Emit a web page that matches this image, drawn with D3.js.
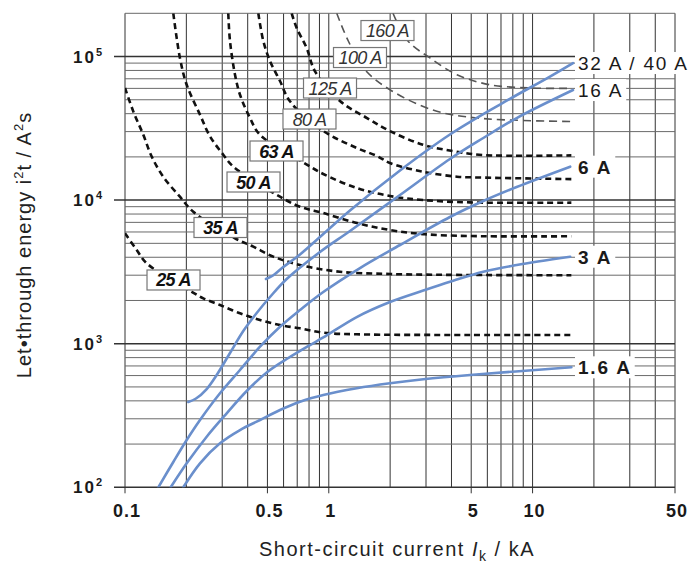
<!DOCTYPE html>
<html><head><meta charset="utf-8">
<script src="https://cdn.jsdelivr.net/npm/d3@7"></script>
<style>body{margin:0;background:#fff} svg{display:block}</style>
</head><body><svg id="c" width="700" height="563"></svg>
<script>
// ---------- data ----------
const xTickLabels = [0.1, 0.5, 1, 5, 10, 50];
const yTickLabels = [100, 1000, 10000, 100000];

// blue curves: MCB let-through energy [kA, A²s]
const mcbNames = ["32 A / 40 A", "16 A", "6 A", "3 A", "1.6 A"];
const mcb32_40 = [[0.4918,2822],[0.5323,2985],[0.5895,3366],[0.7224,4180],[1.271,8466],[2.236,16080],[3.932,28630],[6.918,46320],[12.17,72560],[15.79,90100]];
const mcb16 = [[0.2045,392.7],[0.2231,415.3],[0.2517,483.6],[0.2818,605.4],[0.3275,861.4],[0.3806,1226],[0.4429,1636],[0.5147,2115],[0.6215,2822],[0.9052,4350],[1.271,6092],[2.236,10850],[3.932,19330],[5.731,27070],[8.356,37300],[15.79,58440]];
const mcb6 = [[0.1457,100],[0.1726,150.1],[0.2008,213.5],[0.2334,294.2],[0.2925,451.4],[0.3667,656],[0.4597,953],[0.5763,1313],[0.7224,1717],[0.9397,2291],[1.423,3366],[2.236,4869],[3.932,7627],[5.731,9856],[8.356,12340],[15.3,17090]];
const mcb3 = [[0.1676,100],[0.2008,146.9],[0.2517,225.1],[0.3155,327.6],[0.3956,468.4],[0.4959,630.2],[0.6215,782.4],[0.809,979.4],[0.9397,1105],[1.371,1534],[1.997,1952],[2.909,2347],[3.932,2703],[5.731,3173],[8.356,3532],[15.3,4035]];
const mcb1_6 = [[0.1932,100],[0.2334,146.9],[0.2925,202.5],[0.3667,250.6],[0.4597,294.2],[0.5763,345.4],[0.7224,394.6],[0.9397,439.3],[1.371,489.2],[1.997,530],[2.909,565],[4.93,605.4],[15.5,684.9]];
const mcbBold = [false, false, true, true, true];

// dashed curves: fuse let-through energy [kA, A²s]
const fuseNames = ["25 A", "35 A", "50 A", "63 A", "80 A", "100 A", "125 A", "160 A"];
const fuse25 = [[0.1,5870],[0.1141,4495],[0.1278,3630],[0.2126,2300],[0.2423,2070],[0.2925,1860],[0.3667,1628],[0.4597,1462],[0.5763,1349],[0.7224,1280],[0.9397,1193],[1.37,1163],[4.93,1150],[15.5,1150]];
const fuse35 = [[0.1,60400],[0.1098,41500],[0.123,28500],[0.135,20200],[0.154,14550],[0.186,10560],[0.2163,8300],[0.3466,5420],[0.4262,4740],[0.5342,4040],[0.7224,3530],[1.135,3170],[1.997,3057],[4.93,3010],[15.5,3000]];
const fuse50 = [[0.1726,200000],[0.186,97800],[0.2008,63600],[0.2334,39300],[0.2613,27800],[0.3036,20700],[0.34,17100],[0.5763,10560],[0.7224,8995],[0.9397,8130],[1.375,6920],[1.997,6190],[2.899,5800],[4.93,5620],[15.5,5600]];
const fuse63 = [[0.3212,200000],[0.3275,128300],[0.3466,74700],[0.3667,54200],[0.4106,37300],[0.4597,28500],[0.7727,17840],[0.9397,15200],[1.375,12140],[1.997,10680],[2.899,10020],[4.93,9640],[15.5,9600]];
const fuse80 = [[0.451,200000],[0.4772,128300],[0.5147,93100],[0.5763,67500],[0.6449,48750],[0.9397,30270],[1.375,23050],[1.724,20280],[1.997,18120],[2.899,15770],[4.256,14550],[4.93,14420],[15.5,14000]];
const fuse100 = [[1.094,200000],[1.247,128300],[1.505,80900],[1.997,58700],[3.246,42400],[5.336,37300],[15.5,35300]];
const fuse125 = [[0.6576,200000],[0.6957,158000],[0.7789,114600],[0.8558,78900],[1.135,49000],[1.54,37300],[1.997,30270],[2.899,24300],[4.068,21970],[5.711,20600],[15.5,20500]];
const fuse160 = [[2.065,200000],[2.447,128300],[3.138,97800],[4.256,74700],[6.18,63600],[10.05,60350],[15.5,60000]];
const fuseLabelAt = [[0.173,2778],[0.2942,6446],[0.4272,13370],[0.554,21980],[0.8041,36710],[1.423,98400],[1.014,60350],[1.941,151700]];
const fuseLight = [false, false, false, false, false, true, false, true];
const fuseBoldText = [true, true, true, true, false, false, false, false];

// ---------- drawing ----------
const svg = d3.select("#c");
const L = 125, R = 675, T = 13.3, B = 487.3;
const x = d3.scaleLog().domain([0.1, 50]).range([L, R]);
const y = d3.scaleLog().domain([100, 2e5]).range([B, T]);
const FONT = "'Liberation Sans', Arial, Helvetica, sans-serif";

svg.append("defs").append("clipPath").attr("id","plot")
  .append("rect").attr("x",L).attr("y",T).attr("width",R-L).attr("height",B-T);

// vertical grid
const xGrid = [];
[0.1,1,10].forEach(d=>{for(let m=1;m<=9;m++){const v=+(d*m).toPrecision(3); if(v<=50) xGrid.push(v);}});
const g = svg.append("g");
g.selectAll("line.vx").data(xGrid).join("line")
  .attr("x1",d=>x(d)).attr("x2",d=>x(d))
  .attr("y1",T).attr("y2",d=>xTickLabels.includes(d)?B+6:B)
  .attr("stroke","#333").attr("stroke-width",1);
// horizontal grid
const yGrid = [];
[100,1000,10000,100000].forEach(d=>{for(let m=1;m<=9;m++){const v=d*m; if(v<=2e5) yGrid.push(v);}});
g.selectAll("line.hy").data(yGrid).join("line")
  .attr("x1",d=>yTickLabels.includes(d)?L-11:L).attr("x2",R)
  .attr("y1",d=>y(d)).attr("y2",d=>y(d))
  .attr("stroke",d=>yTickLabels.includes(d)?"#333":"#6a6a6a")
  .attr("stroke-width",d=>yTickLabels.includes(d)?1.5:1);

// axis tick labels
svg.selectAll("text.xt").data(xTickLabels).join("text")
  .attr("x",d=>x(d)+2).attr("y",517).attr("text-anchor","middle")
  .attr("font-family",FONT).attr("font-weight","bold").attr("font-size",18)
  .attr("letter-spacing",1).attr("fill","#1a1a1a").text(d=>d);
const yt = svg.selectAll("text.yt").data(yTickLabels).join("text")
  .attr("x",102).attr("y",d=>y(d)+6).attr("text-anchor","end")
  .attr("font-family",FONT).attr("font-weight","bold").attr("font-size",17)
  .attr("fill","#1a1a1a");
yt.append("tspan").attr("letter-spacing",2).text("10");
yt.append("tspan").attr("font-size",11).attr("dy",-7).text(d=>Math.round(Math.log10(d)));

// axis titles
const xt = svg.append("text").attr("x",397).attr("y",556).attr("text-anchor","middle")
  .attr("font-family",FONT).attr("font-size",20).attr("letter-spacing",1.5).attr("fill","#222");
xt.append("tspan").text("Short-circuit current ");
xt.append("tspan").attr("font-style","italic").text("I");
xt.append("tspan").attr("font-size",14).attr("dy",5).text("k");
xt.append("tspan").attr("dy",-5).text(" / kA");
const ytt = svg.append("text").attr("transform","translate(31,245) rotate(-90)").attr("text-anchor","middle")
  .attr("font-family",FONT).attr("font-size",20).attr("letter-spacing",1).attr("fill","#222");
ytt.append("tspan").text("Let\u2022through energy i");
ytt.append("tspan").attr("font-size",13).attr("dy",-8).text("2");
ytt.append("tspan").attr("dy",8).text("t / A");
ytt.append("tspan").attr("font-size",13).attr("dy",-8).text("2");
ytt.append("tspan").attr("dy",8).text("s");

const line = d3.line().x(d=>x(d[0])).y(d=>y(d[1])).curve(d3.curveCatmullRom.alpha(0.5));
const plot = svg.append("g").attr("clip-path","url(#plot)");

// dashed fuse curves
const fuses = [fuse25,fuse35,fuse50,fuse63,fuse80,fuse100,fuse125,fuse160];
plot.selectAll("path.fuse").data(fuses).join("path")
  .attr("d",line).attr("fill","none")
  .attr("stroke",(d,i)=>fuseLight[i]?"#555":"#111")
  .attr("stroke-width",(d,i)=>fuseLight[i]?1.6:2.6)
  .attr("stroke-dasharray",(d,i)=>fuseLight[i]?"8,5":"6,4");

// fuse label boxes
const fl = svg.selectAll("g.fl").data(fuseNames).join("g")
  .attr("transform",(d,i)=>`translate(${x(fuseLabelAt[i][0])},${y(fuseLabelAt[i][1])})`);
fl.append("rect").attr("x",-26.5).attr("y",-10).attr("width",53).attr("height",20)
  .attr("fill","#fff").attr("stroke","#777").attr("stroke-width",1.2);
fl.append("text").attr("y",6.5).attr("text-anchor","middle")
  .attr("font-family",FONT).attr("font-style","italic").attr("font-size",18)
  .attr("letter-spacing",-0.7)
  .attr("font-weight",(d,i)=>fuseBoldText[i]?"bold":"normal")
  .attr("fill",(d,i)=>fuseBoldText[i]?"#111":"#333").text(d=>d);

// blue MCB curves
const mcbs = [mcb32_40, mcb16, mcb6, mcb3, mcb1_6];
plot.selectAll("path.mcb").data(mcbs).join("path")
  .attr("d",line).attr("fill","none")
  .attr("stroke","#6a8fcc").attr("stroke-width",2.6).attr("stroke-linecap","round");

// right labels
const ml = svg.selectAll("g.ml").data(mcbNames).join("g")
  .attr("transform",(d,i)=>{const e=mcbs[i][mcbs[i].length-1]; return `translate(578,${y(e[1])})`;});
ml.append("text").attr("y",7).attr("font-family",FONT).attr("font-size",19)
  .attr("letter-spacing",1.8)
  .attr("font-weight",(d,i)=>mcbBold[i]?"bold":"normal").attr("fill","#1a1a1a")
  .text(d=>d)
  .each(function(){
    const bb=this.getBBox();
    d3.select(this.parentNode).insert("rect","text")
      .attr("x",bb.x-3).attr("y",-11).attr("width",bb.width+6).attr("height",22)
      .attr("fill","#fff");
  });
</script></body></html>
